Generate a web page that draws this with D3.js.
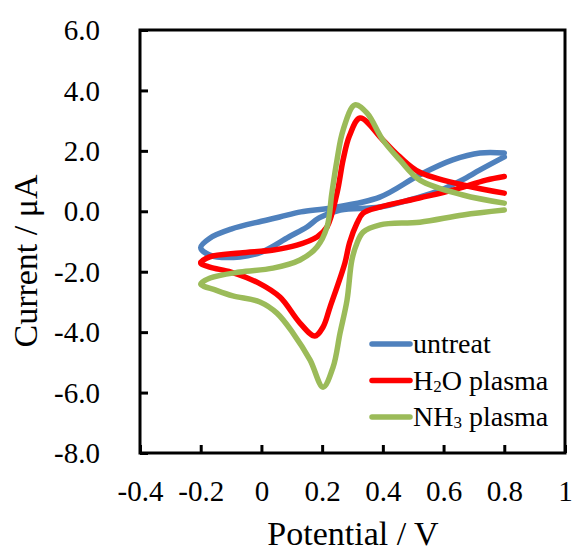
<!DOCTYPE html>
<html>
<head>
<meta charset="utf-8">
<script src="https://cdn.jsdelivr.net/npm/d3@7"></script>
<style>
  body { margin: 0; background: #fff; }
</style>
</head>
<body>
<div id="chart"></div>
<script>
// tick values
const potentialTicks = [-0.4, -0.2, 0, 0.2, 0.4, 0.6, 0.8, 1];
const currentTicks = [-8, -6, -4, -2, 0, 2, 4, 6];

// each curve goes from the right end, along the lower branch to -0.2 V and back along the upper branch
const untreatV = [0.80, 0.72, 0.66, 0.59, 0.52, 0.39, 0.26, 0.19, 0.15, 0.09, 0.00, -0.07, -0.17, -0.20,
                  -0.17, -0.10, 0.00, 0.06, 0.13, 0.23, 0.39, 0.52, 0.63, 0.72, 0.80];
const untreatI = [1.80, 1.37, 1.03, 0.70, 0.47, 0.14, 0.04, -0.22, -0.52, -0.85, -1.35, -1.51, -1.45, -1.20,
                  -0.89, -0.59, -0.33, -0.19, -0.02, 0.11, 0.47, 1.20, 1.70, 1.93, 1.93];

const h2oV = [0.80, 0.74, 0.63, 0.52, 0.39, 0.335, 0.315, 0.29, 0.275, 0.226, 0.203, 0.176, 0.127, 0.061, -0.01, -0.10, -0.17, -0.20,
              -0.17, -0.07, 0.04, 0.117, 0.183, 0.216, 0.249, 0.269, 0.29, 0.325, 0.40, 0.456, 0.52, 0.664, 0.80];
const h2oI = [1.15, 1.03, 0.70, 0.44, 0.14, -0.06, -0.39, -1.05, -1.71, -3.17, -3.83, -4.13, -3.70, -2.84, -2.37, -2.01, -1.85, -1.71,
              -1.51, -1.38, -1.28, -1.12, -0.85, -0.52, 0.60, 1.70, 2.50, 3.09, 2.36, 1.80, 1.30, 0.87, 0.60];

const nh3V = [0.80, 0.664, 0.522, 0.391, 0.335, 0.315, 0.298, 0.282, 0.259, 0.236, 0.203, 0.160, 0.104, 0.051, -0.005, -0.094, -0.15, -0.20,
              -0.169, -0.071, 0.038, 0.127, 0.183, 0.216, 0.232, 0.249, 0.269, 0.308, 0.348, 0.40, 0.456, 0.522, 0.664, 0.80];
const nh3I = [0.04, -0.12, -0.36, -0.45, -0.69, -1.05, -1.61, -2.94, -4.03, -5.16, -5.82, -4.92, -4.03, -3.37, -3.00, -2.80, -2.61, -2.41,
              -2.21, -2.01, -1.88, -1.61, -1.18, -0.52, 0.60, 1.70, 2.69, 3.52, 3.25, 2.36, 1.70, 1.03, 0.54, 0.27];

const seriesNames = ["untreat", "H2O plasma", "NH3 plasma"];
const seriesColors = ["#4f81bd", "#ff0000", "#9bbb59"];

const series = [
  { name: seriesNames[0], color: seriesColors[0], pts: untreatV.map((v, i) => [v, untreatI[i]]) },
  { name: seriesNames[1], color: seriesColors[1], pts: h2oV.map((v, i) => [v, h2oI[i]]) },
  { name: seriesNames[2], color: seriesColors[2], pts: nh3V.map((v, i) => [v, nh3I[i]]) }
];

const FONT = "'Liberation Serif', 'Times New Roman', serif";
const W = 573, H = 551;
const plotLeft = 140, plotRight = 565, plotTop = 30, plotBottom = 453;

const svg = d3.select("#chart").append("svg")
  .attr("width", W)
  .attr("height", H);

const x = d3.scaleLinear().domain([-0.4, 1]).range([plotLeft, plotRight]);
const y = d3.scaleLinear().domain([-8, 6]).range([plotBottom, plotTop]);

// curves
const line = d3.line()
  .x(d => x(d[0]))
  .y(d => y(d[1]))
  .curve(d3.curveCatmullRom.alpha(0.5));

svg.selectAll(".cv")
  .data(series)
  .enter()
  .append("path")
  .attr("class", "cv")
  .attr("d", d => line(d.pts))
  .attr("fill", "none")
  .attr("stroke", d => d.color)
  .attr("stroke-width", 5.5)
  .attr("stroke-linecap", "round")
  .attr("stroke-linejoin", "round");

// frame
svg.append("rect")
  .attr("x", plotLeft)
  .attr("y", plotTop)
  .attr("width", plotRight - plotLeft)
  .attr("height", plotBottom - plotTop)
  .attr("fill", "none")
  .attr("stroke", "#000")
  .attr("stroke-width", 3);

// axes, ticks pointing inward
const yAxis = svg.append("g")
  .attr("transform", `translate(${plotLeft},0)`)
  .call(d3.axisLeft(y).tickValues(currentTicks).tickSize(-8).tickPadding(40).tickFormat(d => d.toFixed(1)));
yAxis.select(".domain").remove();
yAxis.selectAll("line").attr("stroke", "#000").attr("stroke-width", 3);
yAxis.selectAll("text")
  .style("font-family", FONT)
  .style("font-size", "29px")
  .attr("fill", "#000")
  .attr("dy", "0.33em");

const xAxis = svg.append("g")
  .attr("transform", `translate(0,${plotBottom})`)
  .call(d3.axisBottom(x).tickValues(potentialTicks).tickSize(-8).tickFormat(d => String(d)));
xAxis.select(".domain").remove();
xAxis.selectAll("line").attr("stroke", "#000").attr("stroke-width", 3);
xAxis.selectAll("text")
  .style("font-family", FONT)
  .style("font-size", "29px")
  .attr("fill", "#000")
  .attr("y", 48)
  .attr("dy", 0);

// axis titles
svg.append("text")
  .attr("x", 353)
  .attr("y", 545)
  .attr("text-anchor", "middle")
  .style("font-family", FONT)
  .style("font-size", "34px")
  .text("Potential / V");

svg.append("text")
  .attr("transform", "rotate(-90)")
  .attr("x", -261)
  .attr("y", 37)
  .attr("text-anchor", "middle")
  .style("font-family", FONT)
  .style("font-size", "34px")
  .text("Current / μA");

// legend
const legend = svg.selectAll(".legend")
  .data(series)
  .enter()
  .append("g")
  .attr("class", "legend")
  .attr("transform", (d, i) => `translate(372,${344 + i * 36.5})`);

legend.append("line")
  .attr("x1", 0)
  .attr("x2", 38)
  .attr("stroke", d => d.color)
  .attr("stroke-width", 5.5)
  .attr("stroke-linecap", "round");

const legendText = legend.append("text")
  .attr("x", 41)
  .attr("y", 9)
  .style("font-family", FONT)
  .style("font-size", "28px");

// subscripts in H2O / NH3
legendText.each(function(d) {
  const t = d3.select(this);
  const m = d.name.match(/^([A-Za-z]+)(\d)(.*)$/);
  if (m && d.name !== "untreat") {
    t.append("tspan").text(m[1]);
    t.append("tspan").style("font-size", "17px").attr("dy", 2).text(m[2]);
    t.append("tspan").attr("dy", -2).text(m[3]);
  } else {
    t.text(d.name);
  }
});
</script>
</body>
</html>
